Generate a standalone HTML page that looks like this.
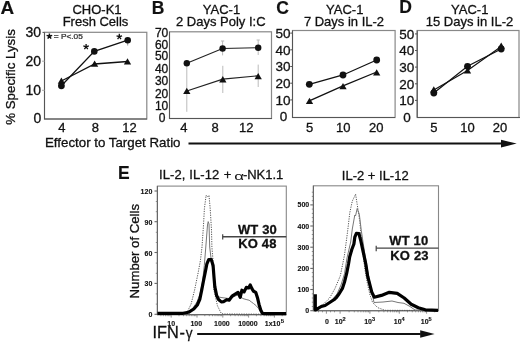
<!DOCTYPE html>
<html><head><meta charset="utf-8"><style>
html,body{margin:0;padding:0;background:#fff;width:520px;height:342px;overflow:hidden}
svg{display:block;will-change:transform}
text{font-family:"Liberation Sans",sans-serif;fill:#111;stroke:#111;stroke-width:0.3px}
.lbl{font-size:17.5px;font-weight:bold;stroke-width:0.15px}
.t13{font-size:13px}
.t12{font-size:12px}
.b13{font-size:13px;font-weight:bold}
.sm{font-size:7px;font-weight:bold;stroke-width:0.12px}
.mid{text-anchor:middle}
.end{text-anchor:end}
</style></head><body>
<svg width="520" height="342" viewBox="0 0 520 342">
<rect width="520" height="342" fill="#fff"/>

<!-- Panel labels -->
<text class="lbl" transform="translate(0.4,13.9) scale(1.08,1)">A</text>
<text class="lbl" x="151.7" y="13.5">B</text>
<text class="lbl" x="276.2" y="14.2">C</text>
<text class="lbl" x="399.2" y="12.9">D</text>
<text class="lbl" x="118" y="179">E</text>

<!-- Titles -->
<g class="t13 mid">
<text class="t13 mid" x="97" y="14.3">CHO-K1</text>
<text class="t13 mid" x="95.5" y="26.3">Fresh Cells</text>
<text class="t13 mid" x="221.5" y="14.4">YAC-1</text>
<text class="t13 mid" x="220.8" y="26.3">2 Days Poly I:C</text>
<text class="t13 mid" x="344.7" y="14.4">YAC-1</text>
<text class="t13 mid" x="344" y="26.2">7 Days in IL-2</text>
<text class="t13 mid" x="469.7" y="14.4">YAC-1</text>
<text class="t13 mid" x="469.5" y="26.2">15 Days in IL-2</text>
</g>

<!-- Y axis label A -->
<text class="mid" style="font-size:13.3px" transform="translate(15.3,77) rotate(-90)">% Specific Lysis</text>
<text x="45" y="146.5" style="font-size:13.3px">Effector to Target Ratio</text>

<!-- Arrow 1 -->
<rect x="188.5" y="142.5" width="313" height="2" fill="#111"/>
<path d="M501,139.8 L516.7,143.5 L501,147.6 Z" fill="#111"/>

<!-- ===== Panel A ===== -->
<rect x="44.5" y="32.3" width="102.3" height="86.7" fill="none" stroke="#888" stroke-width="1.2"/>
<g stroke="#555" stroke-width="1.05">
<line x1="44.5" y1="32.5" x2="44.5" y2="119"/>
<line x1="44" y1="119" x2="147" y2="119"/>
<line x1="42.5" y1="32.4" x2="44.5" y2="32.4"/>
</g>
<g stroke="#aaa" stroke-width="1">
<line x1="42" y1="61.2" x2="44.5" y2="61.2"/>
<line x1="42" y1="90.3" x2="44.5" y2="90.3"/>
</g>
<g class="t13 end">
<text class="end" style="font-size:14px" x="41.1" y="37.1">30</text>
<text class="end" style="font-size:14px" x="41.1" y="65.5">20</text>
<text class="end" style="font-size:14px" x="41.1" y="94.8">10</text>
<text class="end" style="font-size:14px" x="41.4" y="123.1">0</text>
</g>
<text class="t13 mid" x="61.8" y="132">4</text>
<text class="t13 mid" x="95.4" y="132">8</text>
<text class="t13 mid" x="129.6" y="132">12</text>
<!-- legend -->
<path d="M49.40,36.30 L49.40,33.50 M49.40,36.30 L52.20,35.40 M49.40,36.30 L51.10,38.60 M49.40,36.30 L47.70,38.60 M49.40,36.30 L46.60,35.40" stroke="#111" stroke-width="1.5" fill="none"/>
<text transform="translate(53.8,38.7) scale(1,0.8)" style="font-size:8.3px;fill:#333;stroke:#333">= P&lt;.05</text>
<!-- data A -->
<g stroke="#111" stroke-width="1.3" fill="none">
<polyline points="61.4,85.8 94.3,51.4 127.7,40.2"/>
<polyline points="61.4,81 94.6,64 127.5,61.5"/>
</g>
<line x1="127.7" y1="40" x2="127.7" y2="45.5" stroke="#999" stroke-width="1"/>
<g fill="#111">
<circle cx="61.4" cy="85.8" r="3.4"/>
<circle cx="94.3" cy="51.4" r="3.3"/>
<circle cx="127.7" cy="40.2" r="3.3"/>
<path d="M61.40,77.40 L65.05,83.70 L57.75,83.70 Z"/>
<path d="M94.60,60.50 L98.25,66.80 L90.95,66.80 Z"/>
<path d="M127.50,58.20 L131.15,64.50 L123.85,64.50 Z"/>
</g>
<path d="M86.10,46.80 L86.10,43.90 M86.10,46.80 L88.86,45.90 M86.10,46.80 L87.80,49.15 M86.10,46.80 L84.40,49.15 M86.10,46.80 L83.34,45.90 M119.30,36.70 L119.30,33.80 M119.30,36.70 L122.06,35.80 M119.30,36.70 L121.00,39.05 M119.30,36.70 L117.60,39.05 M119.30,36.70 L116.54,35.80" stroke="#111" stroke-width="1.3" fill="none"/>

<!-- ===== Panel B ===== -->
<rect x="169.5" y="31.8" width="102" height="86.7" fill="none" stroke="#888" stroke-width="1.2"/>
<g stroke="#555" stroke-width="1.05">
<line x1="169.5" y1="31.8" x2="169.5" y2="118.5"/>
<line x1="169" y1="118.5" x2="272" y2="118.5"/>
</g>
<g class="t12 end">
<text class="t12 end" x="168.3" y="36.8">70</text>
<text class="t12 end" x="168.3" y="48.6">60</text>
<text class="t12 end" x="168.3" y="60.4">50</text>
<text class="t12 end" x="168.3" y="73.2">40</text>
<text class="t12 end" x="168.3" y="85.4">30</text>
<text class="t12 end" x="168.3" y="97.6">20</text>
<text class="t12 end" x="168.3" y="109.9">10</text>
<text class="t12 mid" x="162.1" y="122.4">0</text>
</g>
<text class="t13 mid" x="183.9" y="132">4</text>
<text class="t13 mid" x="215" y="132">8</text>
<text class="t13 mid" x="246.2" y="132">12</text>
<g stroke="#bbb" stroke-width="1">
<line x1="186.8" y1="63.3" x2="186.8" y2="111.8"/>
<line x1="222.6" y1="41" x2="222.6" y2="55.4"/>
<line x1="258.2" y1="40" x2="258.2" y2="55"/>
<line x1="222.8" y1="65.8" x2="222.8" y2="93"/>
<line x1="258.2" y1="64.6" x2="258.2" y2="87"/>
<line x1="221" y1="41" x2="224.2" y2="41"/>
<line x1="256.6" y1="40" x2="259.8" y2="40"/>
</g>
<g stroke="#222" stroke-width="1.2" fill="none">
<polyline points="186.8,63.3 222.6,48.5 258.2,47.7"/>
<polyline points="186.8,91 222.8,79.2 258.2,75.8"/>
</g>
<g fill="#111">
<circle cx="186.8" cy="63.3" r="3.2"/>
<circle cx="222.6" cy="48.5" r="3.2"/>
<circle cx="258.2" cy="47.7" r="3.2"/>
<path d="M186.80,87.80 L190.45,94.10 L183.15,94.10 Z"/>
<path d="M222.80,76.10 L226.45,82.40 L219.15,82.40 Z"/>
<path d="M258.20,72.90 L261.85,79.20 L254.55,79.20 Z"/>
</g>

<!-- ===== Panel C ===== -->
<rect x="292.5" y="30.5" width="102.6" height="87" fill="none" stroke="#888" stroke-width="1.2"/>
<g stroke="#555" stroke-width="1.05">
<line x1="292.5" y1="30.5" x2="292.5" y2="117.5"/>
<line x1="292" y1="117.5" x2="395" y2="117.5"/>
<line x1="290.3" y1="33.1" x2="292.5" y2="33.1"/><line x1="290.3" y1="49.8" x2="292.5" y2="49.8"/><line x1="290.3" y1="66.5" x2="292.5" y2="66.5"/><line x1="290.3" y1="83.2" x2="292.5" y2="83.2"/><line x1="290.3" y1="99.9" x2="292.5" y2="99.9"/>
</g>
<g class="t13 end">
<text class="end" style="font-size:13.5px" x="290.6" y="37.98">50</text>
<text class="end" style="font-size:13.5px" x="290.6" y="54.67">40</text>
<text class="end" style="font-size:13.5px" x="290.6" y="71.36">30</text>
<text class="end" style="font-size:13.5px" x="290.6" y="88.05">20</text>
<text class="end" style="font-size:13.5px" x="290.6" y="104.74">10</text>
<text class="mid" style="font-size:13.5px" x="283.4" y="121.43">0</text>
</g>
<text class="t13 mid" x="309.5" y="132.2">5</text>
<text class="t13 mid" x="343.3" y="132.2">10</text>
<text class="t13 mid" x="376.3" y="132.2">20</text>
<g stroke="#111" stroke-width="1.3" fill="none">
<polyline points="309.3,84.3 343,75 376.7,60"/>
<polyline points="309.3,100.8 343,85.8 376.7,72"/>
</g>
<g fill="#111">
<circle cx="309.3" cy="84.3" r="3.4"/>
<circle cx="343" cy="75" r="3.4"/>
<circle cx="376.7" cy="60" r="3.4"/>
<path d="M309.50,97.80 L313.15,104.10 L305.85,104.10 Z"/>
<path d="M343.00,83.00 L346.65,89.30 L339.35,89.30 Z"/>
<path d="M376.70,69.20 L380.35,75.50 L373.05,75.50 Z"/>
</g>

<!-- ===== Panel D ===== -->
<rect x="417.2" y="30.5" width="101.8" height="87" fill="none" stroke="#888" stroke-width="1.2"/>
<g stroke="#555" stroke-width="1.05">
<line x1="417.2" y1="30.5" x2="417.2" y2="117.5"/>
<line x1="417" y1="117.5" x2="520" y2="117.5"/>
<line x1="415" y1="33.9" x2="417.2" y2="33.9"/><line x1="415" y1="50.5" x2="417.2" y2="50.5"/><line x1="415" y1="67.1" x2="417.2" y2="67.1"/><line x1="415" y1="83.8" x2="417.2" y2="83.8"/><line x1="415" y1="100.4" x2="417.2" y2="100.4"/>
</g>
<g class="t13 end">
<text class="end" style="font-size:13.5px" x="414.3" y="38.73">50</text>
<text class="end" style="font-size:13.5px" x="414.3" y="55.35">40</text>
<text class="end" style="font-size:13.5px" x="414.3" y="71.97">30</text>
<text class="end" style="font-size:13.5px" x="414.3" y="88.59">20</text>
<text class="end" style="font-size:13.5px" x="414.3" y="105.21">10</text>
<text class="mid" style="font-size:13.5px" x="407" y="121.83">0</text>
</g>
<text class="t13 mid" x="433.8" y="132.2">5</text>
<text class="t13 mid" x="467.5" y="132.2">10</text>
<text class="t13 mid" x="500" y="132.2">20</text>
<g stroke="#111" stroke-width="1.2" fill="none">
<polyline points="433.8,93 467.5,66.3 501.2,49"/>
<polyline points="433.8,90 467.5,70.5 501.2,46.5"/>
</g>
<g fill="#111">
<circle cx="433.8" cy="93" r="3.4"/>
<circle cx="467.5" cy="66.3" r="3.4"/>
<circle cx="501.2" cy="49" r="3.4"/>
<path d="M433.80,86.30 L437.45,92.60 L430.15,92.60 Z"/>
<path d="M467.50,67.30 L471.15,73.60 L463.85,73.60 Z"/>
<path d="M501.20,42.50 L504.85,48.80 L497.55,48.80 Z"/>
</g>

<!-- ===== Panel E ===== -->
<text class="t13" x="159" y="179.4" letter-spacing="0.1">IL-2, IL-12 <tspan dx="0.6">+</tspan></text>
<text class="t13" style="stroke-width:0" transform="translate(234.3,179.5) scale(1.3,0.86)">α</text>
<text class="t13" x="242.9" y="179.4">-NK1.1</text>
<text class="t13" x="341.8" y="179.9">IL-2 + IL-12</text>
<text class="mid" style="font-size:13.2px" transform="translate(138.6,251.2) rotate(-90)">Number of Cells</text>
<text x="152.5" y="337.9" style="font-size:16.3px">IFN<tspan dx="0.7">-</tspan></text>
<text transform="translate(185.8,338) scale(0.84,0.9)" style="font-size:16.3px">γ</text>
<rect x="197.2" y="333" width="223.5" height="2" fill="#111"/>
<path d="M420.2,330.2 L434.6,334 L420.2,337.8 Z" fill="#111"/>

<!-- E1 box -->
<rect x="157.4" y="186.1" width="128.9" height="128.5" fill="none" stroke="#888" stroke-width="1.1"/>
<g stroke="#666" stroke-width="1.1">
<line x1="157.4" y1="186.1" x2="157.4" y2="314.6"/>
<line x1="157" y1="314.6" x2="286.5" y2="314.6"/>
<line x1="154.5" y1="191" x2="157.4" y2="191"/>
<line x1="154.5" y1="221.7" x2="157.4" y2="221.7"/>
<line x1="154.5" y1="252.5" x2="157.4" y2="252.5"/>
<line x1="154.5" y1="283.4" x2="157.4" y2="283.4"/>
<line x1="154.5" y1="314.3" x2="157.4" y2="314.3"/>
</g>
<g class="sm end">
<text class="sm end" x="152.3" y="194">120</text>
<text class="sm end" x="152.3" y="224.7">90</text>
<text class="sm end" x="152.3" y="255.5">60</text>
<text class="sm end" x="152.3" y="286.3">30</text>
<text class="sm end" x="152.3" y="317.1">0</text>
</g>
<g class="sm mid">
<text class="sm mid" x="171.2" y="325.6">10</text>
<text class="sm mid" x="196.3" y="325.6">100</text>
<text class="sm mid" x="221.9" y="325.6">1000</text>
<text class="sm mid" x="247.9" y="325.6">10000</text>
<text class="sm mid" x="274.4" y="325.6">1x10<tspan dx="0.3" dy="-2.8" style="font-size:6px">5</tspan></text>
</g>
<!-- minor ticks -->
<g stroke="#777" stroke-width="0.8">
<line x1="155.8" y1="304.1" x2="157.5" y2="304.1"/>
<line x1="155.8" y1="293.9" x2="157.5" y2="293.9"/>
<line x1="155.8" y1="273.3" x2="157.5" y2="273.3"/>
<line x1="155.8" y1="263.1" x2="157.5" y2="263.1"/>
<line x1="155.8" y1="242.5" x2="157.5" y2="242.5"/>
<line x1="155.8" y1="232.3" x2="157.5" y2="232.3"/>
<line x1="155.8" y1="211.7" x2="157.5" y2="211.7"/>
<line x1="155.8" y1="201.5" x2="157.5" y2="201.5"/>
<line x1="160.9" y1="314.6" x2="160.9" y2="316.2"/>
<line x1="163.4" y1="314.6" x2="163.4" y2="316.2"/>
<line x1="165.5" y1="314.6" x2="165.5" y2="316.2"/>
<line x1="167.2" y1="314.6" x2="167.2" y2="316.2"/>
<line x1="168.7" y1="314.6" x2="168.7" y2="316.2"/>
<line x1="170.0" y1="314.6" x2="170.0" y2="316.2"/>
<line x1="171.2" y1="314.6" x2="171.2" y2="317.6"/>
<line x1="179.0" y1="314.6" x2="179.0" y2="316.2"/>
<line x1="183.5" y1="314.6" x2="183.5" y2="316.2"/>
<line x1="186.7" y1="314.6" x2="186.7" y2="316.2"/>
<line x1="189.2" y1="314.6" x2="189.2" y2="316.2"/>
<line x1="191.3" y1="314.6" x2="191.3" y2="316.2"/>
<line x1="193.0" y1="314.6" x2="193.0" y2="316.2"/>
<line x1="194.5" y1="314.6" x2="194.5" y2="316.2"/>
<line x1="195.8" y1="314.6" x2="195.8" y2="316.2"/>
<line x1="197.0" y1="314.6" x2="197.0" y2="317.6"/>
<line x1="204.8" y1="314.6" x2="204.8" y2="316.2"/>
<line x1="209.3" y1="314.6" x2="209.3" y2="316.2"/>
<line x1="212.5" y1="314.6" x2="212.5" y2="316.2"/>
<line x1="215.0" y1="314.6" x2="215.0" y2="316.2"/>
<line x1="217.1" y1="314.6" x2="217.1" y2="316.2"/>
<line x1="218.8" y1="314.6" x2="218.8" y2="316.2"/>
<line x1="220.3" y1="314.6" x2="220.3" y2="316.2"/>
<line x1="221.6" y1="314.6" x2="221.6" y2="316.2"/>
<line x1="222.8" y1="314.6" x2="222.8" y2="317.6"/>
<line x1="230.6" y1="314.6" x2="230.6" y2="316.2"/>
<line x1="235.1" y1="314.6" x2="235.1" y2="316.2"/>
<line x1="238.3" y1="314.6" x2="238.3" y2="316.2"/>
<line x1="240.8" y1="314.6" x2="240.8" y2="316.2"/>
<line x1="242.9" y1="314.6" x2="242.9" y2="316.2"/>
<line x1="244.6" y1="314.6" x2="244.6" y2="316.2"/>
<line x1="246.1" y1="314.6" x2="246.1" y2="316.2"/>
<line x1="247.4" y1="314.6" x2="247.4" y2="316.2"/>
<line x1="248.6" y1="314.6" x2="248.6" y2="317.6"/>
<line x1="256.4" y1="314.6" x2="256.4" y2="316.2"/>
<line x1="260.9" y1="314.6" x2="260.9" y2="316.2"/>
<line x1="264.1" y1="314.6" x2="264.1" y2="316.2"/>
<line x1="266.6" y1="314.6" x2="266.6" y2="316.2"/>
<line x1="268.7" y1="314.6" x2="268.7" y2="316.2"/>
<line x1="270.4" y1="314.6" x2="270.4" y2="316.2"/>
<line x1="271.9" y1="314.6" x2="271.9" y2="316.2"/>
<line x1="273.2" y1="314.6" x2="273.2" y2="316.2"/>
<line x1="274.4" y1="314.6" x2="274.4" y2="317.6"/>
<line x1="282.2" y1="314.6" x2="282.2" y2="316.2"/>
<line x1="311.8" y1="306.5" x2="313.4" y2="306.5"/>
<line x1="311.8" y1="302.2" x2="313.4" y2="302.2"/>
<line x1="311.8" y1="298.0" x2="313.4" y2="298.0"/>
<line x1="311.8" y1="293.8" x2="313.4" y2="293.8"/>
<line x1="311.8" y1="285.3" x2="313.4" y2="285.3"/>
<line x1="311.8" y1="281.1" x2="313.4" y2="281.1"/>
<line x1="311.8" y1="276.8" x2="313.4" y2="276.8"/>
<line x1="311.8" y1="272.6" x2="313.4" y2="272.6"/>
<line x1="311.8" y1="264.1" x2="313.4" y2="264.1"/>
<line x1="311.8" y1="259.9" x2="313.4" y2="259.9"/>
<line x1="311.8" y1="255.7" x2="313.4" y2="255.7"/>
<line x1="311.8" y1="251.5" x2="313.4" y2="251.5"/>
<line x1="311.8" y1="243.0" x2="313.4" y2="243.0"/>
<line x1="311.8" y1="238.8" x2="313.4" y2="238.8"/>
<line x1="311.8" y1="234.5" x2="313.4" y2="234.5"/>
<line x1="311.8" y1="230.3" x2="313.4" y2="230.3"/>
<line x1="311.8" y1="221.8" x2="313.4" y2="221.8"/>
<line x1="311.8" y1="217.6" x2="313.4" y2="217.6"/>
<line x1="311.8" y1="213.4" x2="313.4" y2="213.4"/>
<line x1="311.8" y1="209.1" x2="313.4" y2="209.1"/>
<line x1="311.8" y1="200.7" x2="313.4" y2="200.7"/>
<line x1="311.8" y1="196.4" x2="313.4" y2="196.4"/>
<line x1="311.8" y1="192.2" x2="313.4" y2="192.2"/>
<line x1="326.4" y1="310.7" x2="326.4" y2="313.7"/>
<line x1="340.1" y1="310.7" x2="340.1" y2="313.7"/>
<line x1="369.9" y1="310.7" x2="369.9" y2="313.7"/>
<line x1="399.3" y1="310.7" x2="399.3" y2="313.7"/>
<line x1="426.6" y1="310.7" x2="426.6" y2="313.7"/>
<line x1="349.1" y1="310.7" x2="349.1" y2="312.3"/>
<line x1="354.3" y1="310.7" x2="354.3" y2="312.3"/>
<line x1="358.0" y1="310.7" x2="358.0" y2="312.3"/>
<line x1="360.9" y1="310.7" x2="360.9" y2="312.3"/>
<line x1="363.3" y1="310.7" x2="363.3" y2="312.3"/>
<line x1="365.3" y1="310.7" x2="365.3" y2="312.3"/>
<line x1="367.0" y1="310.7" x2="367.0" y2="312.3"/>
<line x1="368.5" y1="310.7" x2="368.5" y2="312.3"/>
<line x1="378.8" y1="310.7" x2="378.8" y2="312.3"/>
<line x1="383.9" y1="310.7" x2="383.9" y2="312.3"/>
<line x1="387.6" y1="310.7" x2="387.6" y2="312.3"/>
<line x1="390.4" y1="310.7" x2="390.4" y2="312.3"/>
<line x1="392.8" y1="310.7" x2="392.8" y2="312.3"/>
<line x1="394.7" y1="310.7" x2="394.7" y2="312.3"/>
<line x1="396.5" y1="310.7" x2="396.5" y2="312.3"/>
<line x1="398.0" y1="310.7" x2="398.0" y2="312.3"/>
<line x1="407.5" y1="310.7" x2="407.5" y2="312.3"/>
<line x1="412.3" y1="310.7" x2="412.3" y2="312.3"/>
<line x1="415.7" y1="310.7" x2="415.7" y2="312.3"/>
<line x1="418.4" y1="310.7" x2="418.4" y2="312.3"/>
<line x1="420.5" y1="310.7" x2="420.5" y2="312.3"/>
<line x1="422.4" y1="310.7" x2="422.4" y2="312.3"/>
<line x1="424.0" y1="310.7" x2="424.0" y2="312.3"/>
<line x1="425.4" y1="310.7" x2="425.4" y2="312.3"/>
<line x1="318.5" y1="310.7" x2="318.5" y2="312.3"/>
<line x1="322.5" y1="310.7" x2="322.5" y2="312.3"/>
<line x1="330.5" y1="310.7" x2="330.5" y2="312.3"/>
<line x1="334.5" y1="310.7" x2="334.5" y2="312.3"/>
<line x1="434.7" y1="310.7" x2="434.7" y2="312.3"/>
</g>
<!-- E1 curves -->
<polyline fill="none" stroke="#555" stroke-width="1" stroke-dasharray="1.2,1.2" points="158,314.3 183,314.2 186.8,312.9 191.1,304 194.6,290 198.2,272.5 200.5,260 202,247 203.5,225 204.4,208.7 205.5,200 206.1,195.3 207.5,197 209,195.3 210.2,208.7 211.5,230 211.9,247 213.4,265 213.9,290 217.5,305.9 221,312.9 223,314 286,314.3"/>
<polyline fill="none" stroke="#777" stroke-width="1" points="158,314.3 185,314 189,311.5 193,308 197,302 200,294 202.5,282 204.3,265.5 205.8,247 207.5,225 208.2,221.6 209,224 209.7,247 211.5,262 214,276 215.5,290 217.5,296.5 221,297.5 225,298 229,298.5 233.6,296.9 235.8,295.8 238.6,294.7 241,297 243,298.6 246.9,299.7 249.1,300.2 251.3,301.9 253.6,303.6 256.3,305.8 258.6,308.6 260.2,311.3 263,314 286,314.3"/>
<polyline fill="none" stroke="#000" stroke-width="3.2" stroke-linejoin="round" points="157.5,313.3 183,313.3 188.5,312.3 193.8,309 197.3,305 199.9,299 201.7,290.1 203.4,281.3 205.2,272.5 206.9,263.8 208.7,259.6 211.3,259.6 213.1,265.5 213.9,276 214.8,286.6 216.6,295.4 218.5,299.5 221.3,301.9 223.6,301.6 226.9,299.7 229.1,300.2 232.4,295.8 235.2,294.1 238,292.4 240.2,297.4 241.9,290.2 244.1,291.9 246.3,287.4 248.6,288 250.2,284.9 251.9,288.6 253.6,291.3 255.8,292.4 257.4,297.4 259.1,304.7 260.8,310.2 262.4,313.3 265.8,313.6 286,313.6"/>
<!-- E1 gate -->
<line x1="222.7" y1="236.8" x2="286.3" y2="236.8" stroke="#444" stroke-width="1.4"/>
<line x1="222.7" y1="234.2" x2="222.7" y2="239.6" stroke="#444" stroke-width="1.2"/>
<text class="b13" x="237.9" y="233.9" letter-spacing="0.15">WT 30</text>
<text class="b13" x="238.3" y="248" letter-spacing="0.15">KO 48</text>

<!-- E2 box -->
<rect x="313.4" y="185.8" width="125.1" height="124.9" fill="none" stroke="#888" stroke-width="1.1"/>
<g stroke="#666" stroke-width="1.1">
<line x1="313.4" y1="185.8" x2="313.4" y2="310.7"/>
<line x1="313" y1="310.7" x2="438.7" y2="310.7"/>
<line x1="310.3" y1="204.9" x2="313.4" y2="204.9"/>
<line x1="310.3" y1="226" x2="313.4" y2="226"/>
<line x1="310.3" y1="247.2" x2="313.4" y2="247.2"/>
<line x1="310.3" y1="268.4" x2="313.4" y2="268.4"/>
<line x1="310.3" y1="289.5" x2="313.4" y2="289.5"/>
<line x1="310.3" y1="310.7" x2="313.4" y2="310.7"/>
</g>
<g class="sm end">
<text class="sm end" x="309.2" y="207.4">500</text>
<text class="sm end" x="309.2" y="228.5">400</text>
<text class="sm end" x="309.2" y="249.7">300</text>
<text class="sm end" x="309.2" y="270.9">200</text>
<text class="sm end" x="309.2" y="292">100</text>
<text class="sm end" x="309.2" y="313.2">0</text>
</g>
<g class="sm mid">
<text class="sm mid" x="326.9" y="324">0</text>
<text class="sm mid" x="340.2" y="324">10<tspan dy="-2.7" style="font-size:5.6px">2</tspan></text>
<text class="sm mid" x="369.6" y="324">10<tspan dy="-2.7" style="font-size:5.6px">3</tspan></text>
<text class="sm mid" x="399.2" y="324">10<tspan dy="-2.7" style="font-size:5.6px">4</tspan></text>
<text class="sm mid" x="426.2" y="324">10<tspan dy="-2.7" style="font-size:5.6px">5</tspan></text>
</g>
<!-- E2 curves -->
<polyline fill="none" stroke="#555" stroke-width="1" stroke-dasharray="1.2,1.2" points="315,310 317.1,307.4 323.4,304.2 329.7,297.9 335,288.4 340.3,275.8 342.5,265 344.5,255 346.2,242.1 347.9,229 349.8,212.6 352.3,201.1 355.6,194.2 357.2,204.4 359.7,220.8 361.3,237.2 363.5,258 365,270 367.3,283 370,295 372.6,302.5 377.8,307.7 385,310.3 438,310.5"/>
<polyline fill="none" stroke="#777" stroke-width="1" points="315,309 320,307 326,304.5 332,300 337,294 341,285 344.5,273.7 347,258 350.7,242 352.3,229 354.8,215 355.5,216 357.2,208.5 359.3,214.2 361.3,230.6 363,242 365,255 368,273 371,288 374,302.5 383,302 392,301 398,302.5 404,303.3 410,306.5 415,310 438,310.5"/>
<polyline fill="none" stroke="#000" stroke-width="3.2" stroke-linejoin="round" points="315.3,294.3 315.3,310 318,308.5 321.3,306.5 325.1,305.5 329.7,302.5 334.3,299.5 336,297.9 339,294 342.4,288.4 344.5,282 346.6,273.7 348.5,264 349.7,256.8 351.8,249.5 353.9,244 354.8,237.2 356.4,233.3 358.9,233.5 360.9,241.1 363.3,252.3 365.7,263.6 367.7,276.4 369,281.4 371.7,292 374.3,297.2 381.4,295.4 389.3,292.3 397.2,293.3 404.2,298 411.2,304.2 418.3,307.7 425.3,309.8 438,310.3"/>
<!-- E2 gate -->
<line x1="376.2" y1="248.1" x2="438.5" y2="248.1" stroke="#444" stroke-width="1.4"/>
<line x1="376.2" y1="245.8" x2="376.2" y2="251.2" stroke="#444" stroke-width="1.2"/>
<text class="b13" x="389.3" y="245" letter-spacing="0.15">WT 10</text>
<text class="b13" x="390.2" y="259.6" letter-spacing="0.2">KO 23</text>

</svg>
</body></html>
